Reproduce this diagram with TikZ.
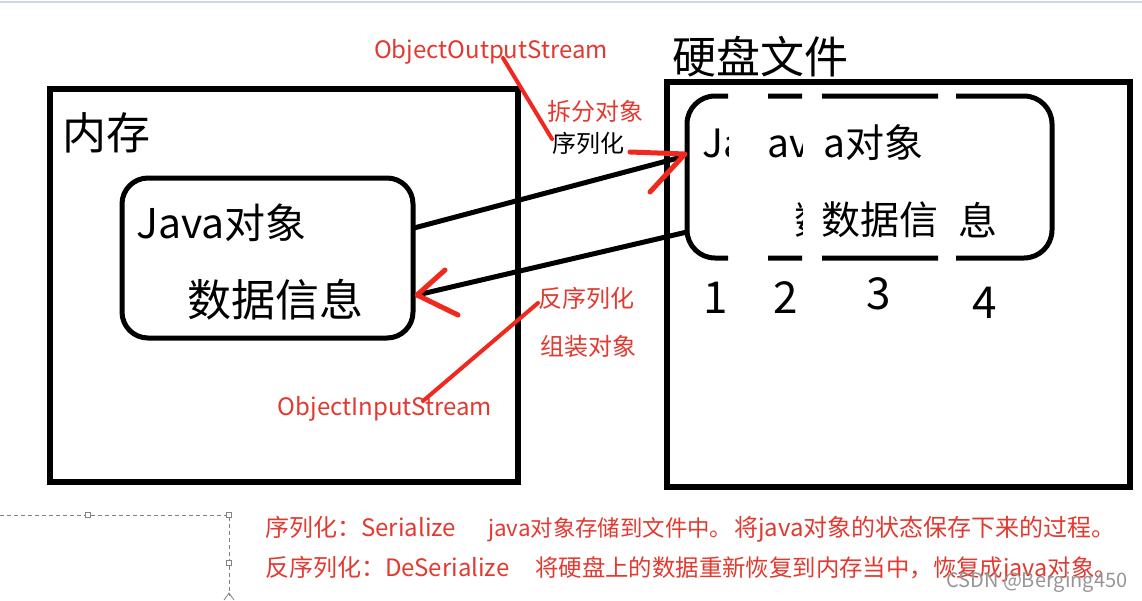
\documentclass[tikz,border=0pt]{standalone}
\usepackage{fontspec}
\setmainfont{Noto Sans CJK SC}
\definecolor{redtxt}{RGB}{226,58,48}
\definecolor{redln}{RGB}{240,40,30}
\definecolor{selgray}{RGB}{130,130,130}
\tikzset{
  bigbox/.style={draw=black, line width=6pt, inner sep=0pt},
  objbox/.style={draw=black, line width=5pt, rounded corners=26pt, inner sep=0pt},
  dbox/.style={draw=black, line width=5pt, rounded corners=28pt},
  txt/.style={inner sep=0pt, text=black},
  huge/.style={txt, font=\fontsize{44}{50}\selectfont},
  big/.style={txt, font=\fontsize{41}{46}\selectfont},
  mid/.style={txt, font=\fontsize{39}{44}\selectfont},
  num/.style={txt, font=\fontsize{44}{50}\selectfont},
  lbl/.style={inner sep=0pt, text=redtxt, font=\fontsize{24}{28}\selectfont},
  blbl/.style={inner sep=0pt, text=black, font=\fontsize{24}{28}\selectfont},
  foot/.style={inner sep=0pt, text=redtxt, font=\fontsize{22.4}{26}\selectfont},
  foottl/.style={inner sep=0pt, text=redtxt, font=\fontsize{23.4}{27}\selectfont},
  foothd/.style={inner sep=0pt, text=redtxt, font=\fontsize{24}{28}\selectfont},
  blackarrow/.style={draw=black, line width=5pt, line cap=round},
  redstroke/.style={draw=redln, line width=5pt, line cap=round, line join=round},
  selline/.style={draw=selgray, line width=0.8pt, dash pattern=on 4pt off 3pt},
  handle/.style={draw=selgray, fill=white, line width=0.8pt, minimum size=5pt, inner sep=0pt}
}
\begin{document}
\begin{tikzpicture}[x=1pt,y=-1pt]
\useasboundingbox (0,0) rectangle (1142,600);
\fill[white] (0,0) rectangle (1142,600);
% faint top line
\draw[draw={rgb,255:red,205;green,214;blue,228}, line width=2pt] (0,1.5) -- (1142,1.5);

% memory box
\node[bigbox, minimum width=468pt, minimum height=393pt] (mem) at (284,285.5) {};
\node[huge, anchor=center] (memlbl) at (106,133) {内存};
\node[objbox, minimum width=291pt, minimum height=160pt] (obj) at (267.5,258) {};
\node[big, anchor=base west] (objt1) at (136,238) {Java对象};
\node[huge, anchor=center] (objt2) at (275,300) {数据信息};

% disk box
\node[bigbox, minimum width=463pt, minimum height=405pt] (disk) at (898.5,284.5) {};
\node[huge, anchor=center] (disklbl) at (760,57) {硬盘文件};

\coordinate (dA) at (687,96);
\coordinate (dB) at (1052,258);
% strip 1
\begin{scope}
\clip (675,80) rectangle (728,280);
\draw[dbox] (dA) rectangle (dB);
\node[mid, anchor=base west] (s1t) at (702,157) {\makebox[26pt][l]{Java}};
\end{scope}
% strip 2
\begin{scope}
\clip (768,80) rectangle (802,280);
\draw[dbox] (dA) rectangle (dB);
\node[mid, anchor=base west] (s2t) at (767,157) {\makebox[34pt][l]{ava}};
\node[mid, anchor=west] (s2b) at (794,220) {\makebox[8pt][l]{数}};
\end{scope}
% strip 3
\begin{scope}
\clip (822,80) rectangle (938,280);
\draw[dbox] (dA) rectangle (dB);
\node[mid, anchor=base west] (s3t) at (823,157) {a对象};
\node[mid, anchor=west] (s3b) at (821,220) {数据信};
\end{scope}
% strip 4
\begin{scope}
\clip (956,80) rectangle (1065,280);
\draw[dbox] (dA) rectangle (dB);
\node[mid, anchor=west] (s4b) at (958,220) {息};
\end{scope}

% numbers
\node[num, anchor=center] (n1) at (716,298) {1};
\node[num, anchor=center] (n2) at (786,298) {2};
\node[num, anchor=center] (n3) at (879,294) {3};
\node[num, anchor=center] (n4) at (985,303) {4};

% serialize arrow
\coordinate (serS) at (414,228);
\coordinate (serE) at (678,158);
\draw[blackarrow] (serS) -- (serE);
\coordinate (serTip) at (685,154);
\coordinate (serH1) at (630,152);
\coordinate (serH2) at (650,192);
\draw[redstroke] (serH1) -- (serTip) -- (serH2);

% deserialize arrow
\coordinate (desS) at (687,232);
\coordinate (desE) at (417,295);
\draw[blackarrow] (desS) -- (desE);
\coordinate (desH1) at (445,270);
\coordinate (desH2) at (458,315);
\draw[redstroke] (desH1) -- (desE) -- (desH2);

% labels
\node[lbl, anchor=base] (oos) at (491,58) {ObjectOutputStream};
\node[lbl, anchor=center] (chaifen) at (595,111) {拆分对象};
\node[blbl, anchor=center] (xulie) at (588,143) {序列化};
\node[lbl, anchor=center] (fanxulie) at (586,298) {反序列化};
\node[lbl, anchor=center] (zuzhuang) at (588,346) {组装对象};
\node[lbl, anchor=base] (ois) at (385,415) {ObjectInputStream};

\coordinate (oosP) at (503,58);
\coordinate (xulieP) at (552,139);
\draw[redstroke, line width=4pt] (oosP) -- (xulieP);
\coordinate (fanP) at (538,303);
\coordinate (oisP) at (423,401);
\draw[redstroke, line width=4pt] (fanP) -- (oisP);

% selection box
\coordinate (selL) at (0,515);
\coordinate (selC) at (229,515);
\coordinate (selB) at (229,596);
\draw[selline] (selL) -- (selC) -- (selB);
\node[handle] (h1) at (88,515) {};
\node[handle] (h2) at (229,515) {};
\node[handle] (h3) at (229,563) {};
\draw[selgray, line width=0.8pt] (224,600) -- (229,593) -- (234,600);

% footer
\node[foothd, anchor=base west] (f1a) at (265,536) {序列化：Serialize};
\node[foot, anchor=base west] (f1b) at (488,536) {java对象存储到文件中。};
\node[foothd, anchor=base west] (f1c) at (734,536) {将java对象的状态保存下来的过程。};
\node[foothd, anchor=base west] (f2a) at (265,576) {反序列化：DeSerialize};
\node[foottl, anchor=base west] (f2b) at (535,576) {将硬盘上的数据重新恢复到内存当中，恢复成java对象。};
\node[inner sep=0pt, text={rgb,255:red,150;green,150;blue,150}, font=\fontsize{20}{24}\selectfont, anchor=base west] (wm) at (946,587) {CSDN @Berging450};
\end{tikzpicture}
\end{document}
